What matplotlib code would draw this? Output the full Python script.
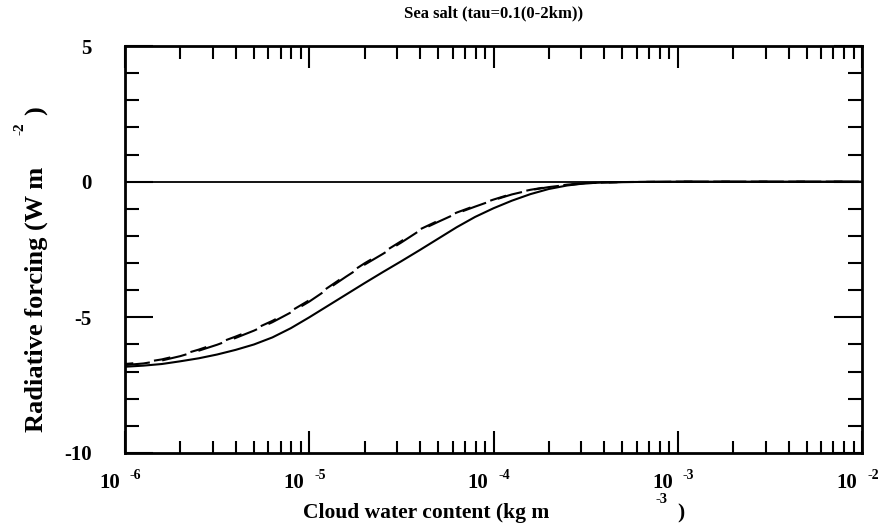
import matplotlib
matplotlib.use("Agg")
import matplotlib.pyplot as plt
from matplotlib.ticker import LogLocator, MultipleLocator, NullFormatter
from matplotlib.transforms import offset_copy
import numpy as np

# ---- data ----
log_cwc = [-6.0, -5.9, -5.8, -5.7, -5.6, -5.5, -5.4, -5.3, -5.2, -5.1, -5.0,
           -4.9, -4.8, -4.7, -4.6, -4.5, -4.4, -4.3, -4.2, -4.1, -4.0,
           -3.9, -3.8, -3.7, -3.6, -3.5, -3.4, -3.3, -3.0, -2.0]
forcing_solid = [-6.82, -6.78, -6.72, -6.62, -6.51, -6.37, -6.20, -6.00, -5.74, -5.40, -5.00,
                 -4.58, -4.16, -3.74, -3.33, -2.93, -2.52, -2.10, -1.68, -1.30, -0.98,
                 -0.70, -0.46, -0.27, -0.14, -0.06, -0.03, -0.015, 0.0, 0.0]
forcing_dash1 = [-6.76, -6.70, -6.59, -6.43, -6.23, -6.01, -5.76, -5.49, -5.18, -4.82, -4.42,
                 -3.96, -3.50, -3.06, -2.66, -2.24, -1.80, -1.48, -1.17, -0.92, -0.68,
                 -0.47, -0.31, -0.20, -0.12, -0.06, -0.03, -0.015, 0.0, 0.0]
forcing_dash2 = [-6.72, -6.66, -6.55, -6.39, -6.19, -5.96, -5.71, -5.44, -5.13, -4.77, -4.37,
                 -3.91, -3.45, -3.01, -2.61, -2.19, -1.76, -1.44, -1.14, -0.89, -0.66,
                 -0.45, -0.30, -0.19, -0.11, -0.05, -0.03, -0.015, 0.0, 0.0]
x_decades = [1e-6, 1e-5, 1e-4, 1e-3, 1e-2]
x_exponents = ["-6", "-5", "-4", "-3", "-2"]
y_ticks = [5, 0, -5, -10]

title = "Sea salt (tau=0.1(0-2km))"

cwc = [10.0 ** v for v in log_cwc]

FONT = "Liberation Serif"
plt.rcParams["font.family"] = [FONT, "DejaVu Serif"]
plt.rcParams["font.weight"] = "bold"

W, H = 890, 524
fig = plt.figure(figsize=(W / 100, H / 100), dpi=100)
L, R, T, B = 125, 862, 46, 453
ax = fig.add_axes([L / W, 1 - B / H, (R - L) / W, (B - T) / H])

ax.set_xscale("log")
ax.set_xlim(1e-6, 1e-2)
ax.set_ylim(-10, 5)

ax.axhline(0, color="black", lw=1.3)
ax.plot(cwc, forcing_solid, color="black", lw=1.5, solid_capstyle="butt")
ax.plot(cwc, forcing_dash1, color="black", lw=1.5, linestyle=(0, (12, 6)))
ax.plot(cwc, forcing_dash2, color="black", lw=1.5, linestyle=(4, (8, 10)))

for s in ax.spines.values():
    s.set_linewidth(2.0)

ax.yaxis.set_major_locator(MultipleLocator(5))
ax.yaxis.set_minor_locator(MultipleLocator(1))
ax.xaxis.set_major_locator(LogLocator(base=10, numticks=10))
ax.xaxis.set_minor_locator(LogLocator(base=10, subs=np.arange(2, 10), numticks=20))
ax.xaxis.set_minor_formatter(NullFormatter())
ax.tick_params(axis="y", which="major", direction="in", length=20, width=1.5,
               left=True, right=True, labelsize=15, pad=24)
ax.tick_params(axis="y", which="minor", direction="in", length=10, width=1.5,
               left=True, right=True)
ax.tick_params(axis="x", which="major", direction="in", length=16, width=1.5,
               bottom=True, top=True, labelbottom=False)
ax.tick_params(axis="x", which="minor", direction="in", length=9, width=1.5,
               bottom=True, top=True)
ax.set_yticks(y_ticks)
ax.set_yticklabels([str(v) for v in y_ticks], fontweight="bold")

# x tick labels: "10" plus raised exponent
xtr = ax.get_xaxis_transform()
for v, e in zip(x_decades, x_exponents):
    ax.text(v, 0, "10", transform=offset_copy(xtr, fig, x=-5, y=-20, units="dots"),
            ha="right", va="top", fontsize=15, fontweight="bold")
    ax.text(v, 0, e, transform=offset_copy(xtr, fig, x=5, y=-16, units="dots"),
            ha="left", va="top", fontsize=10, fontweight="bold")

# title
fig.text((L + R) / 2 / W, 1 - 13 / H, title, ha="center", va="center",
         fontsize=12, fontweight="bold")

# x label
fig.text(303 / W, 1 - 518 / H, "Cloud water content (kg m", ha="left",
         va="baseline", fontsize=15.5, fontweight="bold")
fig.text(655 / W, 1 - 493 / H, "-3", ha="left", va="top", fontsize=10.5,
         fontweight="bold")
fig.text(677 / W, 1 - 518 / H, ")", ha="left", va="baseline", fontsize=15.5,
         fontweight="bold")

# y label (rotated)
fig.text(43 / W, 1 - 432 / H, "Radiative forcing (W m", ha="left",
         va="baseline", rotation=90, fontsize=19, fontweight="bold",
         rotation_mode="anchor")
fig.text(13 / W, 1 - 135 / H, "-2", ha="left", va="bottom", rotation=90,
         fontsize=11, fontweight="bold")
fig.text(43 / W, 1 - 115 / H, ")", ha="left", va="baseline", rotation=90,
         fontsize=19, fontweight="bold", rotation_mode="anchor")

fig.savefig("out.png", dpi=100)
